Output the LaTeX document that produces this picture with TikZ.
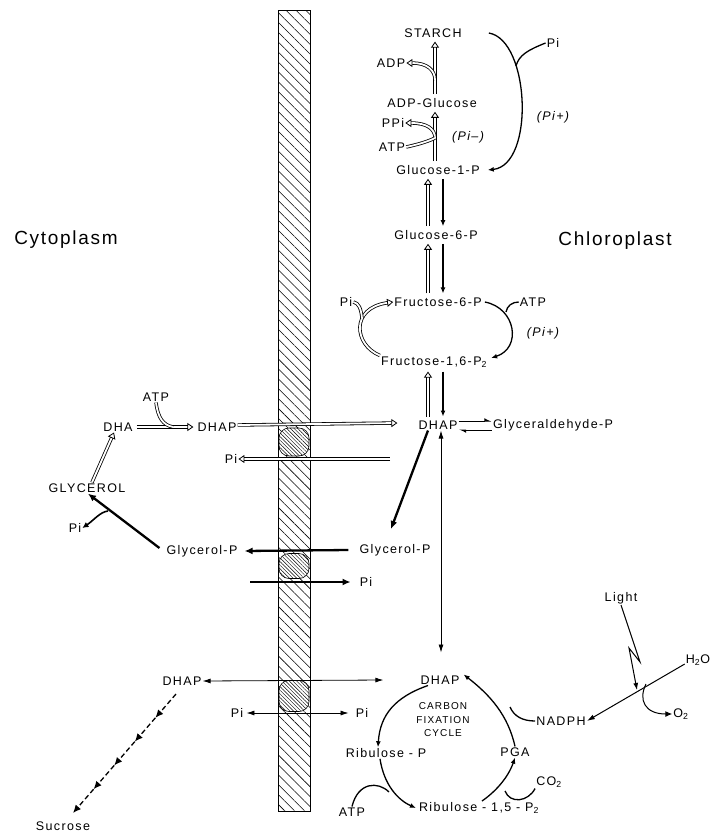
\documentclass[tikz,border=0pt]{standalone}
\usepackage{fontspec}
\setmainfont{Liberation Sans}
\newfontfamily\lblfont{Liberation Sans}[LetterSpace=11]
\newfontfamily\regfont{Liberation Sans}[LetterSpace=9]
\usetikzlibrary{arrows.meta,patterns.meta,calc}

\begin{document}
\begin{tikzpicture}[x=1pt,y=-1pt,
  lbl/.style={font=\lblfont\fontsize{12.5}{14}\selectfont, inner sep=1pt},
  itlbl/.style={lbl, font=\lblfont\itshape\fontsize{12.5}{14}\selectfont},
  region/.style={font=\regfont\fontsize{19}{22}\selectfont},
  cyclelbl/.style={font=\lblfont\fontsize{10}{13.5}\selectfont, align=center, inner sep=0pt},
  membrane/.style={draw, line width=0.7pt, minimum width=32pt, minimum height=801pt, inner sep=0pt,
    pattern={Lines[angle=-45, distance=7pt, line width=0.55pt]}},
  carrier/.style={draw, line width=0.6pt, rounded corners=10pt, minimum width=30pt, inner sep=0pt,
    preaction={fill=white}, pattern={Lines[angle=-45, distance=2.6pt, line width=0.45pt]}},
  openarr/.style={draw, double, double distance=1.8pt, line width=0.8pt,
    -{Triangle[open, length=6pt, width=8pt]}},
  dline/.style={draw, double, double distance=1.8pt, line width=0.8pt},
  gap/.style={shorten <=3pt, shorten >=3pt},
  fillarr/.style={line width=1.3pt, -{Latex[length=6pt, width=5pt]}},
  thickarr/.style={line width=2.3pt, -{Latex[length=8pt, width=7pt]}},
  thinarr/.style={line width=0.8pt, -{Latex[length=8pt, width=5pt]}},
  harp/.style={line width=1pt, -{Latex[harpoon, length=6pt, width=6pt]}},
  dasharr/.style={line width=1.3pt, dash pattern=on 5pt off 3pt, -{Latex[length=8pt, width=7pt]}}
]
\useasboundingbox (0,0) rectangle (715,833);

% membrane with the three carriers
\node[membrane] (mem) at (294,411) {};
\node[carrier, minimum height=28pt] (car1) at (294,442) {};
\node[carrier, minimum height=25pt] (car2) at (294,566) {};
\node[carrier, minimum height=31pt] (car3) at (294,696) {};

% regions
\node[region] (cyto) at (66,240) {Cytoplasm};
\node[region] (chloro) at (615,241) {Chloroplast};

% chloroplast: starch pathway
\node[lbl] (starch) at (433,33) {STARCH};
\node[lbl] (pitop) at (553,43) {Pi};
\node[lbl] (adp) at (391,63) {ADP};
\node[lbl] (adpglc) at (432,103) {ADP-Glucose};
\node[lbl] (ppi) at (393,123) {PPi};
\node[lbl] (atpa) at (392,147) {ATP};
\node[itlbl] (pimin) at (468,137) {(Pi\textendash)};
\node[itlbl] (piplusa) at (553,117) {(Pi+)};
\node[lbl] (gonep) at (438,170) {Glucose-1-P};
\node[lbl] (gsixp) at (436,235) {Glucose-6-P};
\node[lbl] (fsixp) at (438,302) {Fructose-6-P};
\node[lbl] (pif) at (346,302) {Pi};
\node[lbl] (atpb) at (533,302) {ATP};
\node[itlbl] (piplusb) at (543,333) {(Pi+)};
\node[lbl] (fbp) at (434,362) {Fructose-1,6-P\textsubscript{2}};
\node[lbl] (dhapc) at (438,425) {DHAP};
\node[lbl] (gap) at (553,425) {Glyceraldehyde-P};
\node[lbl] (glypc) at (395,550) {Glycerol-P};
\node[lbl] (pic) at (366,582) {Pi};

% cytoplasm
\node[lbl] (atpc) at (156,397) {ATP};
\node[lbl] (dha) at (118,427) {DHA};
\node[lbl] (dhapy) at (217,427) {DHAP};
\node[lbl] (piya) at (231,459) {Pi};
\node[lbl] (glycerol) at (87,488) {GLYCEROL};
\node[lbl] (piyb) at (75,528) {Pi};
\node[lbl] (glypy) at (202,551) {Glycerol-P};
\node[lbl] (dhapyb) at (182,681) {DHAP};
\node[lbl] (piyc) at (237,713) {Pi};
\node[lbl] (picb) at (362,713) {Pi};
\node[lbl] (sucrose) at (63,826) {Sucrose};

% carbon fixation cycle
\node[lbl] (dhapcyc) at (440,680) {DHAP};
\node[cyclelbl] (cycle) at (443,720) {CARBON\\FIXATION\\CYCLE};
\node[lbl] (rup) at (386,753) {Ribulose - P};
\node[lbl] (atpd) at (352,812) {ATP};
\node[lbl] (rubp) at (479,808) {Ribulose - 1,5 - P\textsubscript{2}};
\node[lbl] (pga) at (515,752) {PGA};
\node[lbl] (cotwo) at (549,782) {CO\textsubscript{2}};
\node[lbl] (nadph) at (561,721) {NADPH};
\node[lbl] (light) at (621,598) {Light};
\node[lbl] (htwoo) at (698,660) {H\textsubscript{2}O};
\node[lbl] (otwo) at (681,714) {O\textsubscript{2}};

% starch <-> glucose-1-P
\draw[openarr, gap] (adpglc.north -| 435,0) -- (starch.south -| 435,0);
\coordinate (ja) at (435,80);
\draw[openarr] (ja) .. controls (435,70) and (427,63) .. (adp.east);
\draw[openarr, gap] (gonep.north -| 435,0) -- (adpglc.south -| 435,0);
\coordinate (jb) at (435,138);
\draw[openarr] (jb) .. controls (435,129) and (427,123) .. (ppi.east);
\draw[dline] (atpa.east) .. controls (420,144) and (429,141) .. (jb);
\draw[fillarr] ([xshift=26pt]starch.east) .. controls (530,40) and (535,165) .. ([xshift=7pt]gonep.east);
\draw[line width=1.3pt] (pitop.west) .. controls (528,50) and (519,55) .. (516,66);

% hexose phosphates
\draw[openarr, gap] (gsixp.north -| 428,0) -- (gonep.south -| 428,0);
\draw[fillarr, gap] (gonep.south -| 443,0) -- (gsixp.north -| 443,0);
\draw[openarr, gap] (fsixp.north -| 428,0) -- (gsixp.south -| 428,0);
\draw[fillarr, gap] (gsixp.south -| 443,0) -- (fsixp.north -| 443,0);
\draw[openarr] (fbp.north west) .. controls (354,345) and (350,308) .. (fsixp.west);
\draw[dline] (362,318) .. controls (361,309) and (359,303) .. (pif.east);
\draw[fillarr] ([xshift=2pt]fsixp.east) .. controls (516,308) and (522,348) .. ([xshift=3pt,yshift=4pt]fbp.east);
\draw[line width=1.3pt] (atpb.west) .. controls (512,302) and (507,306) .. (506,312);
\draw[openarr, gap] (dhapc.north -| 428,0) -- (fbp.south -| 428,0);
\draw[fillarr, gap] (fbp.south -| 443,0) -- (dhapc.north -| 443,0);

% triose phosphates
\draw[harp] ([yshift=4pt]dhapc.east) -- ([yshift=4pt]gap.west);
\draw[harp] ([yshift=-5pt]gap.west) -- ([yshift=-5pt]dhapc.east);
\draw[thinarr, {Latex[length=8pt, width=5pt]}-{Latex[length=8pt, width=5pt]}] (dhapc.south -| 441,0) -- ([yshift=22pt]dhapcyc.north -| 441,0);
\draw[thickarr] ([xshift=-10pt]dhapc.south) -- ([shift={(-4pt,14pt)}]glypc.north);

% exchange across the envelope
\draw[openarr] ([yshift=2pt]dhapy.east) -- ([xshift=-20pt,yshift=2pt]dhapc.west);
\coordinate (pistart) at (390,459);
\draw[openarr] (pistart) -- (piya.east);
\draw[thickarr] ([xshift=-10pt]glypc.west) -- ([xshift=6pt]glypy.east);
\coordinate (pyin) at (250,582);
\draw[thickarr] (pyin) -- ([xshift=-8pt]pic.west);
\draw[thinarr, {Latex[length=8pt, width=5pt]}-{Latex[length=8pt, width=5pt]}] (dhapyb.east) -- ([xshift=-36pt]dhapcyc.west);
\draw[thinarr, {Latex[length=8pt, width=5pt]}-{Latex[length=8pt, width=5pt]}] ([xshift=2pt]piyc.east) -- ([xshift=-6pt]picb.west);

% cytoplasm reactions
\draw[openarr] ([xshift=3pt]dha.east) -- ([xshift=-3pt]dhapy.west);
\draw[dline] (atpc.south) .. controls (158,418) and (163,425) .. (173,427);
\draw[openarr] ([xshift=5pt]glycerol.north) -- ([xshift=-4pt]dha.south);
\draw[thickarr] ([xshift=-6pt,yshift=3pt]glypy.west) -- ([xshift=1pt]glycerol.south);
\coordinate (jg) at (108,511);
\draw[line width=1.6pt, -{Latex[length=6pt, width=6pt]}] (jg) .. controls (100,512) and (94,520) .. (piyb.east);
\coordinate (sa) at (176,694);
\coordinate (sb) at (73,813);
\foreach \i [evaluate=\i as \s using \i/5, evaluate=\i as \e using (\i+1)/5] in {0,...,4}
  \draw[dasharr] ($(sa)!\s!(sb)$) -- ($(sa)!\e!(sb)$);

% carbon fixation cycle arrows
\draw[fillarr] ([xshift=-12pt]dhapcyc.south) .. controls (395,697) and (380,715) .. ([xshift=-8pt]rup.north);
\draw[fillarr] ([xshift=-6pt]rup.south) .. controls (384,785) and (398,800) .. ([xshift=-2pt]rubp.west);
\draw[line width=1.3pt] (atpd.north) .. controls (358,782) and (378,781) .. (389,792);
\draw[fillarr] (482,801) .. controls (495,792) and (508,778) .. (pga.south);
\draw[line width=1.3pt] (cotwo.south west) .. controls (528,802) and (510,804) .. (505,791);
\draw[fillarr] (pga.north) .. controls (508,715) and (490,695) .. ([xshift=3pt]dhapcyc.north east);
\draw[line width=1.3pt] (nadph.west) .. controls (522,721) and (514,716) .. (510,707);

% light reaction
\draw[line width=1pt, -{Latex[length=7pt, width=5pt]}] (light.south) -- (640,662) -- (629,648) -- (637,690);
\draw[thinarr, line width=1pt] ([yshift=-4pt]htwoo.west) -- (nadph.east);
\draw[line width=1pt, -{Latex[length=7pt, width=6pt]}] (646,684) .. controls (638,700) and (645,714) .. (otwo.west);
\end{tikzpicture}
\end{document}
